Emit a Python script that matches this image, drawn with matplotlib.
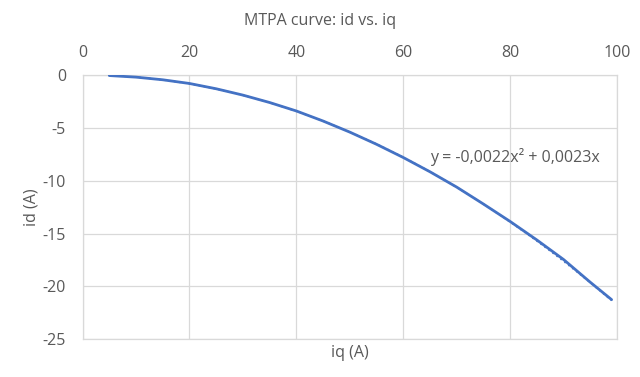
import numpy as np
import matplotlib.pyplot as plt

# MTPA points
iq = [5, 10, 15, 20, 25, 30, 35, 40, 45, 50, 55, 60, 65, 70, 75, 80, 85, 90, 95, 99]
id_ = [-0.05, -0.2, -0.45, -0.8, -1.3, -1.9, -2.6, -3.4, -4.35, -5.4,
       -6.55, -7.8, -9.15, -10.6, -12.2, -13.85, -15.6, -17.45, -19.6, -21.25]
# trendline coefficients from the label
a2, a1, a0 = -0.0022, 0.0023, 0.0

xticks = [0, 20, 40, 60, 80, 100]
yticks = [0, -5, -10, -15, -20, -25]

plt.rcParams['font.family'] = ['Open Sans', 'DejaVu Sans']
plt.rcParams['axes.unicode_minus'] = False
grey = '#595959'
blue = '#4472c4'

fig = plt.figure(figsize=(6.4, 3.77), dpi=100)
ax = fig.add_axes([0.129, 0.1, 0.835, 0.701])

ax.plot(iq, id_, color=blue, lw=2, solid_capstyle='round', zorder=3)
tx = np.linspace(min(iq), max(iq), 200)
ax.plot(tx, np.polyval([a2, a1, a0], tx), color=blue, lw=1.2, ls=(0, (1, 2)), zorder=2)

ax.set_xlim(0, 100)
ax.set_ylim(-25, 0)
ax.set_xticks(xticks)
ax.set_yticks(yticks)
ax.xaxis.tick_top()
ax.tick_params(length=0, labelsize=11.5, colors=grey)
ax.tick_params(axis='x', pad=10)
ax.tick_params(axis='y', pad=12)
ax.grid(True, color='#d9d9d9', lw=0.9)
for s in ax.spines.values():
    s.set_color('#d9d9d9')
    s.set_linewidth(0.9)

ax.set_xlabel('iq (A)', fontsize=11.5, color=grey, labelpad=4)
ax.set_ylabel('id (A)', fontsize=11.5, color=grey, labelpad=2)
fig.text(0.5, 0.944, 'MTPA curve: id vs. iq', ha='center', va='center', fontsize=11.5, color=grey)
ax.text(65.0, -7.8, 'y = -0,0022x² + 0,0023x', fontsize=11.5, color=grey, va='center')

fig.savefig('out.png', dpi=100)
